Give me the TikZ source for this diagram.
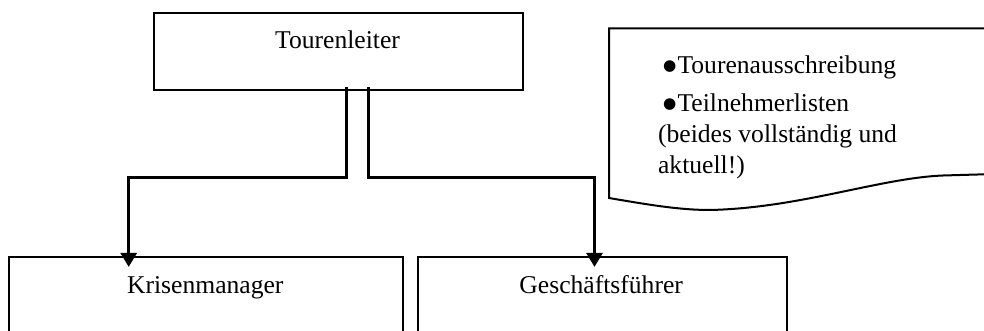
\documentclass[tikz,border=0pt]{standalone}
\usepackage{fontspec}
\setmainfont{Liberation Serif}
\newfontfamily\bulfont{DejaVu Sans}
\usetikzlibrary{arrows.meta,calc}
\newcommand{\mybul}{{\bulfont\fontsize{7.6}{8}\selectfont\raisebox{1.4pt}{●}}\hspace{0.6pt}}
\begin{document}
\begin{tikzpicture}[x=0.5pt,y=-0.5pt,
  box/.style={draw,line width=1pt,rectangle,inner sep=0pt,anchor=north west},
  lbl/.style={inner sep=0pt,anchor=base,font=\fontsize{12.8}{15}\selectfont},
  ntext/.style={inner sep=0pt,anchor=base west,font=\fontsize{12.8}{15}\selectfont},
  conn/.style={line width=1.5pt,-{Triangle[length=7pt,width=8pt]}},
  notebox/.style={line width=1pt}]
\useasboundingbox (0,0) rectangle (984,331);
\clip (0,0) rectangle (984,331);

% boxes
\node[box,minimum width=184.8pt,minimum height=38.5pt] (tl) at (152.7,12.3) {};
\node[lbl] (tlt) at (337.5,48.7) {Tourenleiter};
\node[box,minimum width=197pt,minimum height=60pt] (km) at (8.3,256.3) {};
\node[lbl] (kmt) at (205.3,293.3) {Krisenmanager};
\node[box,minimum width=184.5pt,minimum height=60pt] (gf) at (416.7,256.3) {};
\node[lbl] (gft) at (601.2,293.3) {Geschäftsführer};

% connectors
\coordinate (a1) at ($(tl.south west)+(193.6,-4.3)$);
\coordinate (a2) at ($(tl.south west)+(215.6,-4.3)$);
\draw[conn] (a1) -- ++(0,90.3) -| ($(km.north west)+(120.4,10.6)$);
\draw[conn] (a2) -- ++(0,90.3) -| ($(gf.north west)+(177.8,10.6)$);

% note (document shape)
\draw[notebox] (609,198) -- (609,28.3) -- (995,28.3) -- (995,174) -- (943,175.5)
  .. controls (880,178) and (800,208) .. (710,210)
  .. controls (680,210) and (650,205) .. (609,198) -- cycle;
\node[ntext] (n1) at (662.7,73.3) {\mybul Tourenausschreibung};
\node[ntext] (n2) at (662.7,111.7) {\mybul Teilnehmerlisten};
\node[ntext] (n3) at (657.7,142.3) {(beides vollständig und};
\node[ntext] (n4) at (657.7,173.3) {aktuell!)};
\end{tikzpicture}
\end{document}
